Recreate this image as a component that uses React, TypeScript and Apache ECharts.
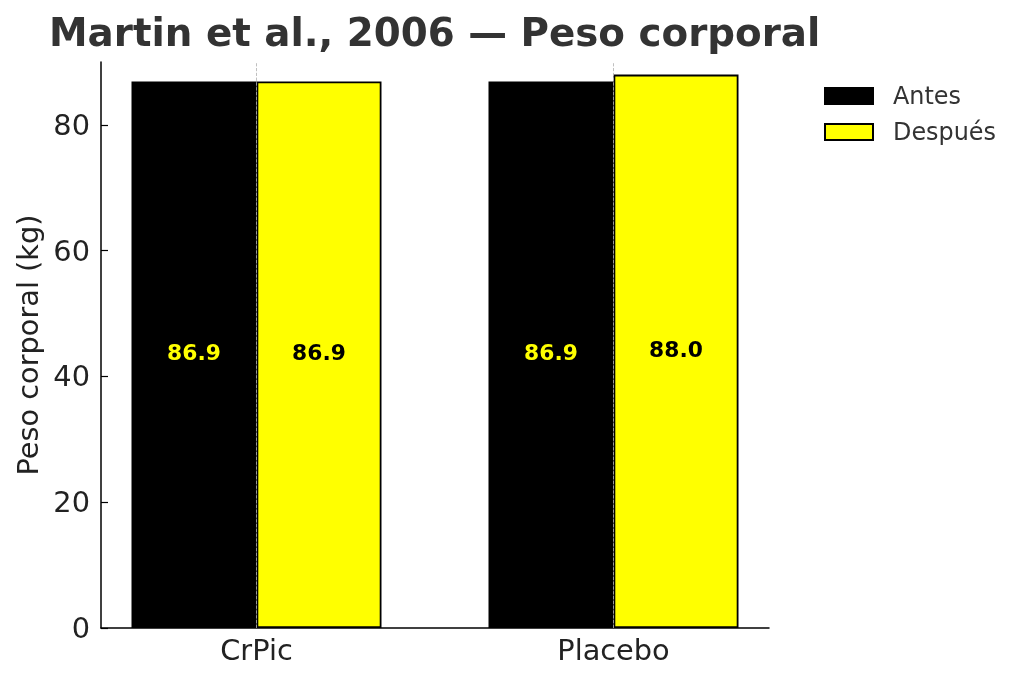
import { useEffect, useRef } from "react";
import * as echarts from "echarts";

const FONT = "'DejaVu Sans', sans-serif";
const TEXT = "#333333";

const categories = ["CrPic", "Placebo"];
const antes = [86.9, 86.9];
const despues = [86.9, 88.0];
const yTicks = [0, 20, 40, 60, 80];

export default function App() {
  const ref = useRef<HTMLDivElement>(null);

  useEffect(() => {
    if (!ref.current) return;
    const chart = echarts.init(ref.current, null, { renderer: "svg" });

    const valueLabel = (color: string) => ({
      show: true,
      position: "inside" as const,
      formatter: (p: any) => Number(p.value).toFixed(1),
      fontFamily: FONT,
      fontSize: 21.8,
      fontWeight: "bold" as const,
      color,
      offset: [0, -2],
    });

    chart.setOption({
      animation: false,
      textStyle: { fontFamily: FONT },
      title: {
        text: "Martin et al., 2006 — Peso corporal",
        left: 44,
        top: 8,
        textStyle: { fontFamily: FONT, fontSize: 38.8, fontWeight: "bold", color: TEXT },
      },
      legend: {
        data: ["Antes", "Después"],
        orient: "vertical",
        left: 819,
        top: 79,
        icon: "rect",
        itemWidth: 48,
        itemHeight: 16,
        itemGap: 12,
        textStyle: { fontFamily: FONT, fontSize: 23.9, color: TEXT, padding: [0, 0, 0, 15] },
      },
      // grid 0 carries the visible spines; grid 1 carries the bars (matplotlib-like margins)
      grid: [
        { left: 101, right: 255, top: 62, bottom: 54 },
        { left: 78, right: 232, top: 62, bottom: 54 },
      ],
      xAxis: [
        {
          type: "category",
          gridIndex: 0,
          data: categories,
          axisLine: { lineStyle: { color: "#000", width: 1.5 } },
          axisTick: { show: false },
          axisLabel: { show: false },
          splitLine: { show: false },
        },
        {
          type: "category",
          gridIndex: 1,
          data: categories,
          axisLine: { show: false },
          axisTick: { show: false },
          axisLabel: { fontFamily: FONT, fontSize: 28.8, color: "#222", margin: 7 },
          splitLine: { show: false },
        },
      ],
      yAxis: [
        {
          type: "value",
          gridIndex: 0,
          min: 0,
          max: 90,
          name: "Peso corporal (kg)",
          nameLocation: "middle",
          nameGap: 53,
          nameTextStyle: { fontFamily: FONT, fontSize: 28.8, color: "#222" },
          axisLine: { show: true, lineStyle: { color: "#000", width: 1.5 } },
          axisTick: { show: true, inside: true, length: 7, customValues: yTicks, lineStyle: { color: "#000", width: 1.2 } },
          axisLabel: { customValues: yTicks, fontFamily: FONT, fontSize: 28.8, color: "#222", margin: 11 },
          splitLine: { show: false },
        },
        {
          type: "value",
          gridIndex: 1,
          min: 0,
          max: 90,
          show: false,
          splitLine: { show: false },
        },
      ],
      series: [
        {
          name: "Antes",
          type: "bar",
          xAxisIndex: 1,
          yAxisIndex: 1,
          data: antes,
          barWidth: 125,
          barGap: "0%",
          itemStyle: { color: "#000000", borderColor: "#000000", borderWidth: 1.8 },
          label: valueLabel("#ffff00"),
        },
        {
          name: "Después",
          type: "bar",
          xAxisIndex: 1,
          yAxisIndex: 1,
          data: despues,
          barWidth: 125,
          barGap: "0%",
          itemStyle: { color: "#ffff00", borderColor: "#000000", borderWidth: 1.8 },
          label: valueLabel("#000000"),
        },
        {
          // vertical x grid lines at the category centres
          name: "grid",
          type: "line",
          xAxisIndex: 1,
          yAxisIndex: 1,
          data: [],
          z: 5,
          markLine: {
            symbol: "none",
            silent: true,
            animation: false,
            label: { show: false },
            lineStyle: { color: "#b0b0b0", type: "dashed", width: 0.8 },
            data: categories.map((c) => ({ xAxis: c })),
          },
        },
      ],
    });

    return () => chart.dispose();
  }, []);

  return <div ref={ref} style={{ position: "fixed", left: 0, top: 0, width: 1024, height: 682 }} />;
}
